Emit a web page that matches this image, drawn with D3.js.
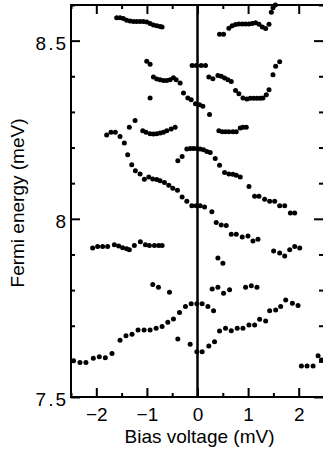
<!DOCTYPE html>
<html><head><meta charset="utf-8">
<script src="https://cdn.jsdelivr.net/npm/d3@7"></script>
<style>
html,body{margin:0;padding:0;background:#fff;}
svg{display:block;}
text{font-family:"Liberation Sans",Arial,Helvetica,sans-serif;fill:#000;}
</style></head>
<body>
<svg id="chart" width="323" height="451"></svg>
<script>
// Data: [bias voltage (mV), Fermi energy (meV)]
const branchA = [[-1.597,8.564],[-1.531,8.564],[-1.465,8.562],[-1.399,8.557],[-1.333,8.555],[-1.267,8.554],[-1.201,8.554],[-1.135,8.554],[-1.069,8.554],[-1.003,8.552],[-0.937,8.548],[-0.871,8.544],[-0.805,8.542],[-0.739,8.540],[-0.700,8.538]];
const branchB = [[0.436,8.518],[0.515,8.518],[0.620,8.535],[0.686,8.542],[0.752,8.545],[0.818,8.547],[0.884,8.547],[0.950,8.547],[1.017,8.547],[1.083,8.548],[1.149,8.550],[1.215,8.546],[1.281,8.538],[1.347,8.534],[1.413,8.546],[1.459,8.580],[1.492,8.592],[1.538,8.600]];
const branchC = [[-1.003,8.442],[-0.937,8.434],[-0.871,8.398],[-0.805,8.392],[-0.739,8.390],[-0.673,8.388],[-0.607,8.388],[-0.541,8.390],[-0.475,8.396],[-0.422,8.390],[-0.343,8.381],[-0.277,8.353],[-0.191,8.339],[-0.125,8.334],[-0.040,8.323],[0.040,8.320],[0.106,8.316],[0.238,8.293],[-0.937,8.339]];
const branchZ = [[-0.106,8.430],[-0.026,8.430],[0.073,8.430],[0.158,8.430]];
const branchD = [[0.224,8.398],[0.304,8.393],[0.403,8.402],[0.469,8.400],[0.535,8.395],[0.601,8.390],[0.667,8.385],[0.752,8.360],[0.818,8.351],[0.898,8.339],[0.977,8.336],[1.043,8.338],[1.109,8.338],[1.175,8.338],[1.241,8.338],[1.294,8.339],[1.360,8.348],[1.413,8.362],[1.492,8.404],[1.545,8.428],[1.624,8.441]];
const branchE = [[-1.795,8.235],[-1.710,8.243],[-1.624,8.243],[-1.531,8.231],[-1.446,8.213],[-1.380,8.180],[-1.300,8.152],[-1.228,8.135],[-1.135,8.126],[-1.050,8.111],[-0.964,8.117],[-0.884,8.112],[-0.805,8.110],[-0.739,8.107],[-0.653,8.102],[-0.568,8.094],[-0.488,8.086],[-0.396,8.080],[-0.304,8.061],[-0.211,8.049],[-0.112,8.037],[-0.026,8.037],[0.053,8.037],[0.139,8.033],[0.284,8.020],[0.370,7.990],[0.469,7.983],[0.568,7.981],[0.667,7.957],[0.766,7.957],[0.884,7.949],[0.997,7.952],[1.096,7.938],[1.195,7.943],[1.505,7.910],[1.624,7.904],[1.723,7.896],[1.822,7.913],[1.921,7.922],[2.020,7.918],[-1.347,8.257],[-1.234,8.276]];
const branchF = [[-1.083,8.247],[-1.017,8.243],[-0.937,8.239],[-0.871,8.238],[-0.805,8.239],[-0.739,8.241],[-0.673,8.243],[-0.607,8.247],[-0.521,8.252],[-0.442,8.257]];
const branchG = [[0.422,8.247],[0.488,8.244],[0.554,8.244],[0.620,8.244],[0.700,8.244],[0.766,8.244],[0.845,8.255],[0.898,8.257],[0.964,8.257]];
const branchH = [[-0.389,8.163],[-0.304,8.175],[-0.211,8.196],[-0.145,8.197],[-0.079,8.197],[-0.013,8.197],[0.053,8.196],[0.119,8.194],[0.185,8.189],[0.251,8.186],[0.350,8.169],[0.436,8.150],[0.535,8.130],[0.620,8.126],[0.700,8.125],[0.766,8.122],[0.845,8.117],[1.017,8.091],[1.129,8.063],[1.215,8.063],[1.327,8.055],[1.426,8.049],[1.525,8.049],[1.624,8.037],[1.723,8.037],[1.835,8.016],[1.921,8.016]];
const branchI = [[-2.073,7.918],[-1.974,7.922],[-1.875,7.922],[-1.776,7.922],[-1.644,7.927],[-1.558,7.924],[-1.479,7.919],[-1.399,7.916],[-1.347,7.913],[-1.248,7.925],[-1.129,7.936],[-1.030,7.927],[-0.950,7.925],[-0.851,7.925],[-0.766,7.925],[-0.700,7.925]];
const branchJ = [[-0.884,7.816],[-0.772,7.808],[-0.554,7.794],[0.403,7.890],[0.502,7.875],[0.290,7.803],[0.403,7.808],[0.515,7.791],[0.634,7.801],[0.950,7.808],[1.063,7.812],[1.175,7.808]];
const branchK = [[-2.449,7.602],[-2.323,7.597],[-2.205,7.597],[-2.059,7.609],[-1.941,7.613],[-1.822,7.610],[-1.690,7.622],[-1.531,7.659],[-1.413,7.672],[-1.294,7.676],[-1.175,7.688],[-1.056,7.688],[-0.937,7.688],[-0.818,7.693],[-0.700,7.698],[-0.587,7.710],[-0.475,7.719],[-0.356,7.737],[-0.238,7.754],[-0.125,7.762],[-0.013,7.762],[0.092,7.762],[0.205,7.754],[0.317,7.742]];
const branchL = [[-0.389,7.663],[-0.145,7.648],[-0.013,7.627],[0.092,7.627],[0.224,7.643],[0.337,7.655],[0.436,7.685],[0.554,7.693],[0.667,7.686],[0.785,7.693],[0.898,7.693],[1.017,7.702],[1.129,7.702],[1.228,7.718],[1.347,7.713],[1.426,7.742],[1.545,7.744],[1.644,7.754],[1.743,7.772],[1.875,7.763],[1.987,7.757]];
const branchM = [[2.053,7.587],[2.165,7.587],[2.284,7.587],[2.383,7.616],[2.449,7.604]];

const xMajor = [-2,-1,0,1,2];
const xMinor = [-2.5,-1.5,-0.5,0.5,1.5,2.5];
const yMajor = [7.5,8,8.5];
const yMinor = [7.6,7.7,7.8,7.9,8.1,8.2,8.3,8.4,8.6];
const xTitle = "Bias voltage (mV)";
const yTitle = "Fermi energy  (meV)";

const allPoints = [].concat(branchA,branchB,branchC,branchZ,branchD,branchE,branchF,branchG,branchH,branchI,branchJ,branchK,branchL,branchM);

const L=71, R=324, T=5, B=397;
const svg = d3.select("#chart");
const x = d3.scaleLinear().domain([-2.5,2.5]).range([L,R]);
const y = d3.scaleLinear().domain([7.5,8.6]).range([B,T]);
const fs = 19;

function style(g){ g.select(".domain").remove(); g.selectAll("line").attr("stroke","#000").attr("stroke-width",2); g.selectAll("text").style("font-size",fs+"px"); }

// bottom
svg.append("g").attr("transform",`translate(0,${B})`).call(d3.axisBottom(x).tickValues(xMajor).tickSize(-9).tickPadding(11).tickFormat(d3.format("d"))).call(style);
svg.append("g").attr("transform",`translate(0,${B})`).call(d3.axisBottom(x).tickValues(xMinor).tickSize(-4).tickFormat("")).call(style);
// top
svg.append("g").attr("transform",`translate(0,${T})`).call(d3.axisTop(x).tickValues(xMajor).tickSize(-9).tickFormat("")).call(style);
svg.append("g").attr("transform",`translate(0,${T})`).call(d3.axisTop(x).tickValues(xMinor).tickSize(-4).tickFormat("")).call(style);
// left
svg.append("g").attr("transform",`translate(${L},0)`).call(d3.axisLeft(y).tickValues(yMajor).tickSize(-9).tickPadding(3).tickFormat(d=>d===8?"8":d3.format(".1f")(d))).call(style)
  .call(g=>g.selectAll("text").attr("dy","0.44em").style("letter-spacing","2px"));
svg.append("g").attr("transform",`translate(${L},0)`).call(d3.axisLeft(y).tickValues(yMinor).tickSize(-4).tickFormat("")).call(style);
// right
svg.append("g").attr("transform",`translate(${R},0)`).call(d3.axisRight(y).tickValues(yMajor).tickSize(-10).tickFormat("")).call(style);
svg.append("g").attr("transform",`translate(${R},0)`).call(d3.axisRight(y).tickValues(yMinor).tickSize(-5).tickFormat("")).call(style);

// frame
svg.append("rect").attr("x",L).attr("y",T).attr("width",R-L).attr("height",B-T).attr("fill","none").attr("stroke","#000").attr("stroke-width",2);
// zero line
svg.append("line").attr("x1",x(0)).attr("x2",x(0)).attr("y1",T).attr("y2",B).attr("stroke","#000").attr("stroke-width",2.5);

// points
svg.append("g").selectAll("circle").data(allPoints).join("circle")
  .attr("cx",d=>x(d[0])).attr("cy",d=>y(d[1])).attr("r",2.5).attr("fill","#000");

// titles
svg.append("text").attr("x",(L+R)/2+2).attr("y",443).attr("text-anchor","middle").style("font-size",fs+"px").text(xTitle);
svg.append("text").attr("transform",`translate(24,${(T+B)/2+2}) rotate(-90)`).attr("text-anchor","middle").style("font-size",fs+"px").text(yTitle);
</script>
</body></html>
